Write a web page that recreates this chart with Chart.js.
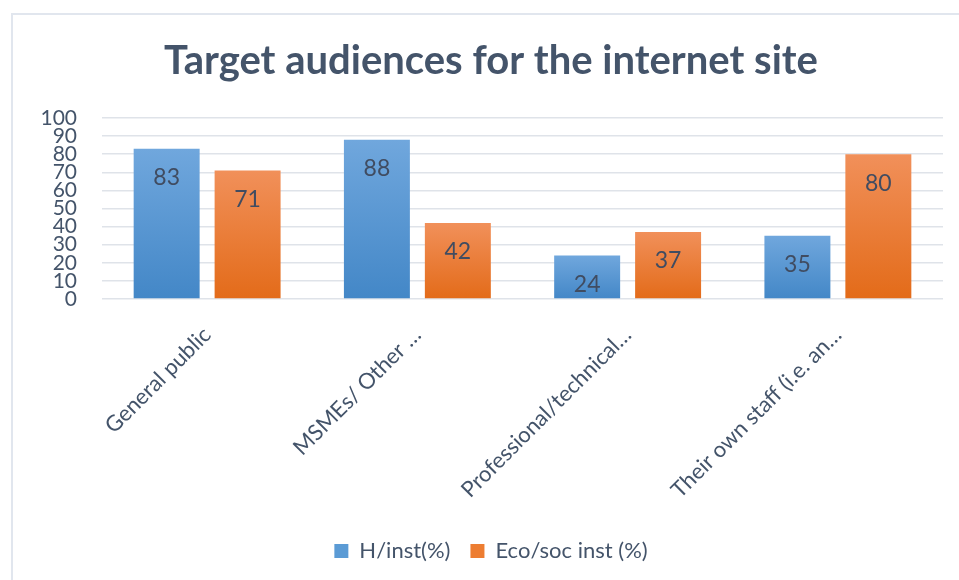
<!DOCTYPE html>
<html>
<head>
<meta charset="utf-8">
<script src="https://cdn.jsdelivr.net/npm/chart.js@4/dist/chart.umd.min.js"></script>
<style>
  body { margin: 0; background: #fff; overflow: hidden; }
  #frame { position: absolute; left: 11px; top: 13px; width: 1000px; height: 620px; border: 2px solid #e1e6ee; }
  #audChart { position: absolute; left: 0; top: 0; }
</style>
</head>
<body>
<div id="frame"></div>
<canvas id="audChart" width="959" height="580"></canvas>
<script>
const categories = ['General public', 'MSMEs/ Other \u2026', 'Professional/technical\u2026', 'Their own staff (i.e. an\u2026'];
const hInst = [83, 88, 24, 35];
const ecoSoc = [71, 42, 37, 80];
const yTicks = [0, 10, 20, 30, 40, 50, 60, 70, 80, 90, 100];

const TEXT = '#44546a';
const FONT = 'Lato, "DejaVu Sans", sans-serif';

// vertical gradient per bar, light at the top, darker at the base
function barFill(top, bottom, fallback) {
  return (ctx) => {
    const chart = ctx.chart;
    const y = chart.scales && chart.scales.y;
    if (!chart.chartArea || !y || ctx.raw === undefined) return fallback;
    const y0 = y.getPixelForValue(ctx.raw);
    const y1 = y.getPixelForValue(0);
    if (!isFinite(y0) || !isFinite(y1) || y0 === y1) return fallback;
    const g = chart.ctx.createLinearGradient(0, y0, 0, y1);
    g.addColorStop(0, top);
    g.addColorStop(1, bottom);
    return g;
  };
}

// value labels just inside the top of each bar
const barValues = {
  id: 'barValues',
  afterDatasetsDraw(chart) {
    const ctx = chart.ctx;
    ctx.save();
    ctx.font = '23px ' + FONT;
    ctx.fillStyle = '#404c61';
    ctx.textAlign = 'center';
    ctx.textBaseline = 'middle';
    chart.data.datasets.forEach((ds, di) => {
      chart.getDatasetMeta(di).data.forEach((bar, i) => {
        ctx.fillText(String(ds.data[i]), bar.x, bar.y + 29);
      });
    });
    ctx.restore();
  }
};

new Chart(document.getElementById('audChart'), {
  type: 'bar',
  data: {
    labels: categories,
    datasets: [
      {
        label: 'H/inst(%)',
        data: hInst,
        backgroundColor: barFill('#70a7dd', '#4387c7', '#5b9bd5'),
        legendColor: '#5b9bd5'
      },
      {
        label: 'Eco/soc inst (%)',
        data: ecoSoc,
        backgroundColor: barFill('#f1905a', '#e36b19', '#ed7d31'),
        legendColor: '#ed7d31'
      }
    ]
  },
  options: {
    responsive: false,
    devicePixelRatio: 1,
    animation: false,
    layout: { padding: { left: 39, right: 16, top: 0, bottom: 8 } },
    datasets: {
      bar: { categoryPercentage: 0.77, barPercentage: 0.815 }
    },
    plugins: {
      title: {
        display: true,
        text: 'Target audiences for the internet site',
        color: TEXT,
        font: { family: FONT, size: 40, weight: 'bold' },
        padding: { top: 37, bottom: 33 }
      },
      legend: {
        position: 'bottom',
        labels: {
          color: TEXT,
          font: { family: FONT, size: 22 },
          boxWidth: 14,
          boxHeight: 14,
          padding: 20,
          generateLabels(chart) {
            return chart.data.datasets.map((ds, i) => ({
              text: ds.label,
              fillStyle: ds.legendColor,
              strokeStyle: ds.legendColor,
              lineWidth: 0,
              fontColor: TEXT,
              datasetIndex: i
            }));
          }
        }
      },
      tooltip: { enabled: false }
    },
    scales: {
      x: {
        grid: { display: false, drawTicks: false },
        border: { display: false },
        ticks: {
          color: TEXT,
          font: { family: FONT, size: 22 },
          minRotation: 45,
          maxRotation: 45,
          autoSkip: false,
          padding: 23
        },
        afterFit(scale) { scale.height = 221; }
      },
      y: {
        min: 0,
        max: 100,
        afterBuildTicks(scale) { scale.ticks = yTicks.map(v => ({ value: v })); },
        grid: { color: '#dfe3e9', lineWidth: 1.5, drawTicks: false },
        border: { display: false },
        ticks: {
          color: TEXT,
          font: { family: FONT, size: 21, lineHeight: 1 },
          autoSkip: false,
          padding: 25
        },
        afterFit(scale) { scale.width = 63; }
      }
    }
  },
  plugins: [barValues]
});
</script>
</body>
</html>
